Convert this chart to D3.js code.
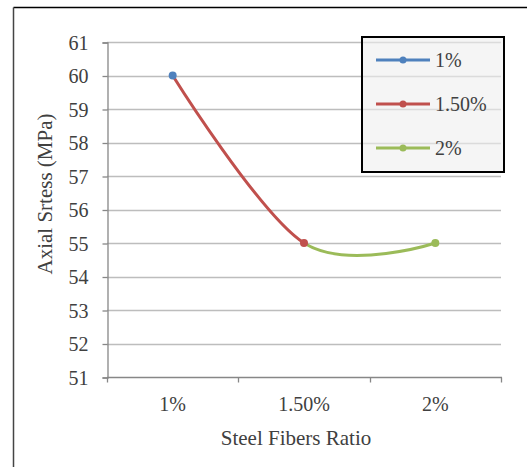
<!DOCTYPE html>
<html>
<head>
<meta charset="utf-8">
<script src="https://cdn.jsdelivr.net/npm/d3@7/dist/d3.min.js"></script>
<style>
  html, body { margin: 0; padding: 0; background: #fff; }
  svg { display: block; }
</style>
</head>
<body>
<svg id="chart" width="527" height="467"></svg>
<script>
// Steel fibre ratio vs. axial stress (one series, colour varied by point)
const categories = ["1%", "1.50%", "2%"];
const stress = [60, 55, 55];
const pointColors = ["#4f81bd", "#c0504d", "#9bbb59"];
const yTicks = [51, 52, 53, 54, 55, 56, 57, 58, 59, 60, 61];

const FONT = "Liberation Serif, Times New Roman, Times, Tinos, Noto Serif, DejaVu Serif, FreeSerif, serif";
const svg = d3.select("#chart");
const plot = { left: 107, right: 501, top: 42, bottom: 377 };

// outer chart frame (top and left edges visible)
svg.append("line").attr("x1", 13.5).attr("x2", 527).attr("y1", 7.5).attr("y2", 7.5)
  .attr("stroke", "#000").attr("stroke-width", 1.3);
svg.append("line").attr("x1", 13.5).attr("x2", 13.5).attr("y1", 7.5).attr("y2", 467)
  .attr("stroke", "#444").attr("stroke-width", 1.5);

const x = d3.scaleBand().domain(categories).range([plot.left, plot.right]).padding(0);
const y = d3.scaleLinear().domain([51, 61]).range([plot.bottom, plot.top]);
const cx = d => x(d) + x.bandwidth() / 2;

// horizontal gridlines
svg.append("g").selectAll("line").data(yTicks.slice(1)).join("line")
  .attr("x1", plot.left).attr("x2", plot.right)
  .attr("y1", d => Math.round(y(d)) + 0.5).attr("y2", d => Math.round(y(d)) + 0.5)
  .attr("stroke", "#bdbdbd").attr("stroke-width", 1.3);

// y axis
const yAxis = svg.append("g").attr("transform", `translate(${plot.left + 0.5},0.5)`)
  .call(d3.axisLeft(y).tickValues(yTicks).tickSize(5).tickPadding(14).tickFormat(d3.format("d")));
yAxis.attr("font-family", null).attr("font-size", null);
yAxis.select(".domain").attr("stroke", "#878787").attr("stroke-width", 1.3);
yAxis.selectAll(".tick line").attr("stroke", "#878787").attr("stroke-width", 1.3);
yAxis.selectAll(".tick text").attr("dy", "0.33em")
  .style("font-family", FONT).style("font-size", "20px").style("fill", "#404040");

// x axis with boundary tick marks between categories
const xAxisG = svg.append("g").attr("transform", `translate(0,${plot.bottom + 0.5})`);
xAxisG.append("line").attr("x1", plot.left).attr("x2", plot.right + 1)
  .attr("stroke", "#878787").attr("stroke-width", 1.3);
const bounds = categories.map(c => x(c)).concat([x(categories[categories.length - 1]) + x.bandwidth()]);
xAxisG.selectAll("line.tk").data(bounds).join("line").attr("class", "tk")
  .attr("x1", d => Math.round(d) + 0.5).attr("x2", d => Math.round(d) + 0.5)
  .attr("y1", 0).attr("y2", 5).attr("stroke", "#878787").attr("stroke-width", 1.3);
xAxisG.selectAll("text").data(categories).join("text")
  .attr("x", d => cx(d)).attr("y", 33).attr("text-anchor", "middle")
  .style("font-family", FONT).style("font-size", "20px").style("fill", "#404040")
  .text(d => d);

// axis titles
svg.append("text").attr("x", 296).attr("y", 445)
  .attr("text-anchor", "middle")
  .style("font-family", FONT).style("font-size", "21px").style("fill", "#404040")
  .text("Steel Fibers Ratio");
svg.append("text").attr("transform", "translate(52,194) rotate(-90)")
  .attr("text-anchor", "middle")
  .style("font-family", FONT).style("font-size", "21px").style("fill", "#404040")
  .text("Axial Srtess (MPa)");

// smoothed line; each segment takes the colour of its end point
const pts = categories.map((c, i) => [cx(c), y(stress[i])]);
const line = d3.line().curve(d3.curveCardinal.tension(0));
const pathD = line(pts);
const defs = svg.append("defs");
for (let i = 1; i < pts.length; i++) {
  defs.append("clipPath").attr("id", "seg" + i).append("rect")
    .attr("x", pts[i - 1][0]).attr("y", 0)
    .attr("width", pts[i][0] - pts[i - 1][0]).attr("height", 467);
  svg.append("path").attr("d", pathD).attr("clip-path", `url(#seg${i})`)
    .attr("fill", "none").attr("stroke", pointColors[i]).attr("stroke-width", 3)
    .attr("stroke-linecap", "round");
}

// point markers
svg.append("g").selectAll("circle").data(pts).join("circle")
  .attr("cx", d => d[0]).attr("cy", d => d[1]).attr("r", 4)
  .attr("fill", (d, i) => pointColors[i]);

// legend
const lg = svg.append("g");
lg.append("rect").attr("x", 362).attr("y", 37).attr("width", 142).attr("height", 135)
  .attr("fill", "#eeeeee").attr("fill-opacity", 0.6)
  .attr("stroke", "#000").attr("stroke-width", 2);
const rows = lg.selectAll("g.row").data(categories).join("g").attr("class", "row")
  .attr("transform", (d, i) => `translate(0,${60 + i * 44})`);
rows.append("line").attr("x1", 376).attr("x2", 430).attr("y1", 0).attr("y2", 0)
  .attr("stroke", (d, i) => pointColors[i]).attr("stroke-width", 3);
rows.append("circle").attr("cx", 403).attr("cy", 0).attr("r", 3.5)
  .attr("fill", (d, i) => pointColors[i]);
rows.append("text").attr("x", 435).attr("y", 0).attr("dy", "0.33em")
  .style("font-family", FONT).style("font-size", "20px").style("fill", "#404040")
  .text(d => d);
</script>
</body>
</html>
